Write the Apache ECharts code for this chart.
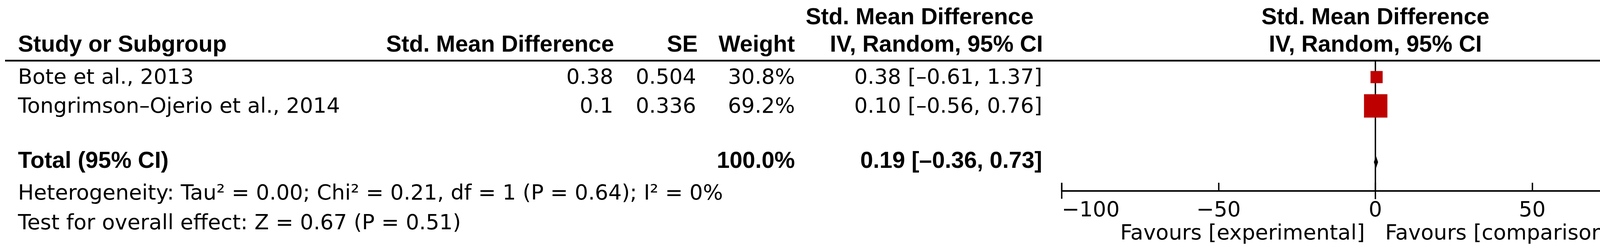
<!DOCTYPE html>
<html><head><meta charset="utf-8">
<script src="https://cdn.jsdelivr.net/npm/echarts@6/dist/echarts.min.js"></script>
<style>html,body{margin:0;padding:0;background:#fff}#c{width:4382px;height:644px}</style>
</head><body><div id="c"></div>
<script>
// ---- data ----
const studies = ['Bote et al., 2013', 'Tongrimson–Ojerio et al., 2014'];
const smdText = ['0.38', '0.1'];
const smd = [0.38, 0.10];
const se = ['0.504', '0.336'];
const weight = [30.8, 69.2];
const ciLow = [-0.61, -0.56];
const ciHigh = [1.37, 0.76];
const totalEst = 0.19, totalLow = -0.36, totalHigh = 0.73, totalWeight = 100.0;
const xTicks = [-100, -50, 0, 50, 100];
const hetText = 'Heterogeneity: Tau² = 0.00; Chi² = 0.21, df = 1 (P = 0.64); I² = 0%';
const testText = 'Test for overall effect: Z = 0.67 (P = 0.51)';
const favLeft = 'Favours [experimental]';
const favRight = 'Favours [comparison]';

// ---- layout ----
const FONT = '"DejaVu Sans", sans-serif';
const FS = 54;
const BFONT = '"Liberation Sans", Arial, sans-serif';
const BFS = 59;
const Y_MIN = 0.43, Y_MAX = 4.95;
const rowY = [1, 2];
const totalY = 3.95;

function fmt(v) { return (v < 0 ? '–' : '') + Math.abs(v).toFixed(2); }
const ciText = studies.map((s, i) => fmt(smd[i]) + ' [' + fmt(ciLow[i]) + ', ' + fmt(ciHigh[i]) + ']');
const totalCiText = fmt(totalEst) + ' [' + fmt(totalLow) + ', ' + fmt(totalHigh) + ']';

const chart = echarts.init(document.getElementById('c'), null, { renderer: 'canvas' });

chart.setOption({
  animation: false,
  grid: { left: 2718, right: 58, top: 155, bottom: 156 },
  xAxis: {
    type: 'value', min: xTicks[0], max: xTicks[xTicks.length - 1], interval: 50,
    axisLine: { show: true, lineStyle: { color: '#000', width: 4 } },
    axisTick: { show: true, inside: true, length: 21, lineStyle: { color: '#000', width: 3.5 } },
    splitLine: { show: false },
    axisLabel: {
      margin: 24, fontSize: FS, fontFamily: FONT, color: '#000',
      alignMinLabel: 'left', alignMaxLabel: 'right',
      formatter: v => (v < 0 ? '−' + Math.abs(v) : String(v))
    }
  },
  yAxis: { type: 'value', inverse: true, min: Y_MIN, max: Y_MAX, show: false },
  series: [
    { // line of no effect
      type: 'custom', clip: false, silent: true, z: 1,
      data: [[0]],
      renderItem: (p, api) => {
        const a = api.coord([api.value(0), Y_MIN]);
        const b = api.coord([api.value(0), Y_MAX]);
        return { type: 'line', shape: { x1: a[0], y1: a[1], x2: b[0], y2: b[1] + 21 }, style: { stroke: '#000', lineWidth: 3.5 } };
      }
    },
    { // end ticks crossing axis
      type: 'custom', clip: false, silent: true, z: 3,
      data: [[xTicks[0]], [xTicks[xTicks.length - 1]]],
      renderItem: (p, api) => {
        const b = api.coord([api.value(0), Y_MAX]);
        return { type: 'line', shape: { x1: b[0], y1: b[1] - 21, x2: b[0], y2: b[1] + 20 }, style: { stroke: '#000', lineWidth: 3.5 } };
      }
    },
    { // CI whiskers
      type: 'custom', clip: false, silent: true, z: 2,
      data: studies.map((s, i) => [ciLow[i], ciHigh[i], rowY[i]]),
      renderItem: (p, api) => {
        const a = api.coord([api.value(0), api.value(2)]);
        const b = api.coord([api.value(1), api.value(2)]);
        return { type: 'line', shape: { x1: a[0], y1: a[1], x2: b[0], y2: b[1] }, style: { stroke: '#000', lineWidth: 3 } };
      }
    },
    { // study squares
      type: 'scatter', z: 4, silent: true,
      symbol: 'rect',
      symbolSize: v => 8 + 0.75 * v[2],
      itemStyle: { color: '#be0000', opacity: 1 },
      data: studies.map((s, i) => [smd[i], rowY[i], weight[i]])
    },
    { // total diamond
      type: 'custom', clip: false, silent: true, z: 4,
      data: [[totalLow, totalEst, totalHigh, totalY]],
      renderItem: (p, api) => {
        const l = api.coord([api.value(0), api.value(3)]);
        const c = api.coord([api.value(1), api.value(3)]);
        const r = api.coord([api.value(2), api.value(3)]);
        const h = 16;
        return { type: 'polygon', shape: { points: [[l[0] - 1, l[1]], [c[0], c[1] - h], [r[0] + 1, r[1]], [c[0], c[1] + h]] }, style: { fill: '#000' } };
      }
    }
  ]
});

function txt(text, x, y, align, bold) {
  return {
    type: 'text', x: x, y: y, silent: true,
    style: {
      text: text, fill: '#000',
      fontSize: bold ? BFS : FS, fontFamily: bold ? BFONT : FONT,
      fontWeight: bold ? 'bold' : 'normal',
      textAlign: align, align: align, textVerticalAlign: 'middle', verticalAlign: 'middle'
    }
  };
}

const els = [];
// header line
els.push({ type: 'line', silent: true, shape: { x1: 13, y1: 155, x2: 4371, y2: 155 }, style: { stroke: '#000', lineWidth: 4.5 } });
// headers
els.push(txt('Study or Subgroup', 46, 116, 'left', true));
els.push(txt('Std. Mean Difference', 1572, 116, 'right', true));
els.push(txt('SE', 1786, 116, 'right', true));
els.push(txt('Weight', 2035, 116, 'right', true));
els.push(txt('Std. Mean Difference', 2646, 46, 'right', true));
els.push(txt('IV, Random, 95% CI', 2670, 116, 'right', true));
els.push(txt('Std. Mean Difference', 3521, 46, 'center', true));
els.push(txt('IV, Random, 95% CI', 3521, 116, 'center', true));
// study rows
studies.forEach((s, i) => {
  const y = chart.convertToPixel({ yAxisIndex: 0 }, rowY[i]) + 3;
  els.push(txt(s, 46, y, 'left', false));
  els.push(txt(smdText[i], 1570, y, 'right', false));
  els.push(txt(se[i], 1782, y, 'right', false));
  els.push(txt(weight[i].toFixed(1) + '%', 2035, y, 'right', false));
  els.push(txt(ciText[i], 2668, y, 'right', false));
});
// total row
const ty = chart.convertToPixel({ yAxisIndex: 0 }, totalY) - 2;
els.push(txt('Total (95% CI)', 46, ty, 'left', true));
els.push(txt(totalWeight.toFixed(1) + '%', 2035, ty, 'right', true));
els.push(txt(totalCiText, 2668, ty, 'right', true));
// footnotes
els.push(txt(hetText, 46, 496, 'left', false));
els.push(txt(testText, 46, 572, 'left', false));
els.push(txt(favLeft, 3494, 598, 'right', false));
els.push(txt(favRight, 3546, 598, 'left', false));

chart.setOption({ graphic: { elements: els } });
</script>
</body></html>
